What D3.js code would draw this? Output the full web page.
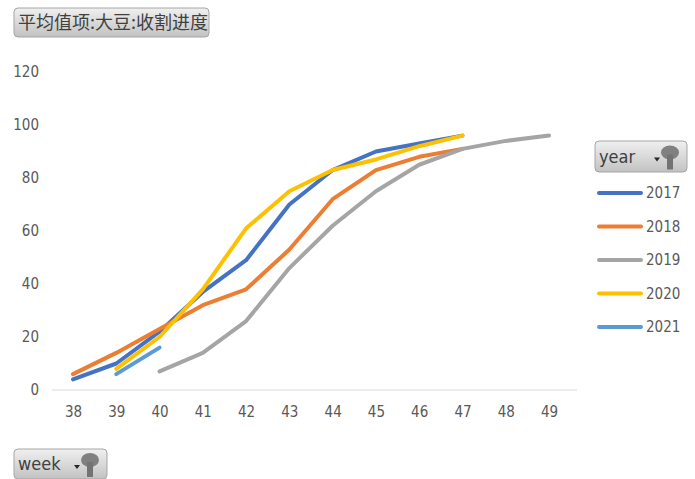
<!DOCTYPE html>
<html lang="zh">
<head>
<meta charset="UTF-8">
<title>平均值项:大豆:收割进度</title>
<script src="https://cdnjs.cloudflare.com/ajax/libs/d3/7.8.5/d3.min.js"></script>
<style>
  body { margin: 0; background: #fff; }
  svg { display: block; }
</style>
</head>
<body>
<div id="chart"></div>
<script>
// Data (null = no value that week)
var weeks = [38, 39, 40, 41, 42, 43, 44, 45, 46, 47, 48, 49];
var years = ["2017", "2018", "2019", "2020", "2021"];
var v2017 = [4, 10, 22, 37, 49, 70, 83, 90, 93, 96, null, null];
var v2018 = [6, 14, 23, 32, 38, 53, 72, 83, 88, 91, null, null];
var v2019 = [null, null, 7, 14, 26, 46, 62, 75, 85, 91, 94, 96];
var v2020 = [null, 8, 20, 38, 61, 75, 83, 87, 92, 96, null, null];
var v2021 = [null, 6, 16, null, null, null, null, null, null, null, null, null];
var yTicks = [0, 20, 40, 60, 80, 100, 120];

var seriesValues = [v2017, v2018, v2019, v2020, v2021];
var colors = ["#4472C4", "#ED7D31", "#A5A5A5", "#FFC000", "#5B9BD5"];

var w = 695, h = 479;
var font = "'Liberation Sans Narrow', 'DejaVu Sans Condensed', 'Liberation Sans', sans-serif";

var svg = d3.select("#chart").append("svg")
  .attr("width", w)
  .attr("height", h);

var defs = svg.append("defs");
var grad = defs.append("linearGradient")
  .attr("id", "btn")
  .attr("x1", 0).attr("y1", 0).attr("x2", 0).attr("y2", 1);
grad.append("stop").attr("offset", "0%").attr("stop-color", "#f0f0f0");
grad.append("stop").attr("offset", "100%").attr("stop-color", "#c2c2c2");

var x = d3.scalePoint().domain(weeks).range([73, 549]);
var y = d3.scaleLinear().domain([0, 120]).range([390, 72]);

// x axis base line
svg.append("line")
  .attr("x1", 52).attr("x2", 577)
  .attr("y1", y(0)).attr("y2", y(0))
  .attr("stroke", "#d9d9d9")
  .attr("stroke-width", 1.2);

// y axis labels
var yAxis = d3.axisLeft(y).tickValues(yTicks).tickSize(0).tickPadding(0);
svg.append("g")
  .attr("transform", "translate(39,0)")
  .call(yAxis)
  .call(function(g) {
    g.select(".domain").remove();
    g.selectAll("text")
      .attr("fill", "#595959")
      .attr("font-family", font)
      .attr("font-size", "15px");
  });

// x axis labels
var xAxis = d3.axisBottom(x).tickSize(0).tickPadding(0);
svg.append("g")
  .attr("transform", "translate(0,406)")
  .call(xAxis)
  .call(function(g) {
    g.select(".domain").remove();
    g.selectAll("text")
      .attr("fill", "#595959")
      .attr("font-family", font)
      .attr("font-size", "15px");
  });

// lines
var line = d3.line()
  .defined(function(d) { return d.v !== null; })
  .x(function(d) { return x(d.week); })
  .y(function(d) { return y(d.v); });

seriesValues.forEach(function(vals, i) {
  var pts = weeks.map(function(wk, j) { return { week: wk, v: vals[j] }; });
  svg.append("path")
    .datum(pts)
    .attr("d", line)
    .attr("fill", "none")
    .attr("stroke", colors[i])
    .attr("stroke-width", 4)
    .attr("stroke-linejoin", "round")
    .attr("stroke-linecap", "round");
});

// Excel-style field buttons
function fieldButton(bx, by, bw, bh, label, size, withIcon, fam) {
  var g = svg.append("g").attr("transform", "translate(" + bx + "," + by + ")");
  g.append("rect")
    .attr("width", bw).attr("height", bh)
    .attr("rx", 4).attr("ry", 4)
    .attr("fill", "url(#btn)")
    .attr("stroke", "#a6a6a6")
    .attr("stroke-width", 1);
  g.append("text")
    .attr("x", 4).attr("y", bh / 2)
    .attr("dy", "0.36em")
    .attr("fill", "#404040")
    .attr("font-family", fam)
    .attr("font-size", size)
    .text(label);
  if (withIcon) {
    // dropdown arrow
    g.append("path")
      .attr("d", "M" + (bw - 33) + "," + (bh / 2 + 1) + "h6l-3,4z")
      .attr("fill", "#262626");
    // filter pin
    g.append("ellipse")
      .attr("cx", bw - 17).attr("cy", bh / 2 - 4)
      .attr("rx", 9).attr("ry", 7)
      .attr("fill", "#808080");
    g.append("rect")
      .attr("x", bw - 20).attr("y", bh / 2 - 2)
      .attr("width", 6).attr("height", 15)
      .attr("fill", "#737373");
  }
  return g;
}

fieldButton(14, 8, 195, 29, "平均值项:大豆:收割进度", "18px", false, "'Noto Sans CJK SC', sans-serif");
fieldButton(595, 141, 92, 31, "year", "18px", true, font);
fieldButton(14, 449, 93, 30, "week", "18px", true, font);

// legend
var legend = svg.append("g");
years.forEach(function(yr, i) {
  var ly = 193 + i * 33.5;
  legend.append("line")
    .attr("x1", 599).attr("x2", 641)
    .attr("y1", ly).attr("y2", ly)
    .attr("stroke", colors[i])
    .attr("stroke-width", 4)
    .attr("stroke-linecap", "round");
  legend.append("text")
    .attr("x", 646).attr("y", ly)
    .attr("dy", "0.36em")
    .attr("fill", "#595959")
    .attr("font-family", font)
    .attr("font-size", "15px")
    .text(yr);
});
</script>
</body>
</html>
